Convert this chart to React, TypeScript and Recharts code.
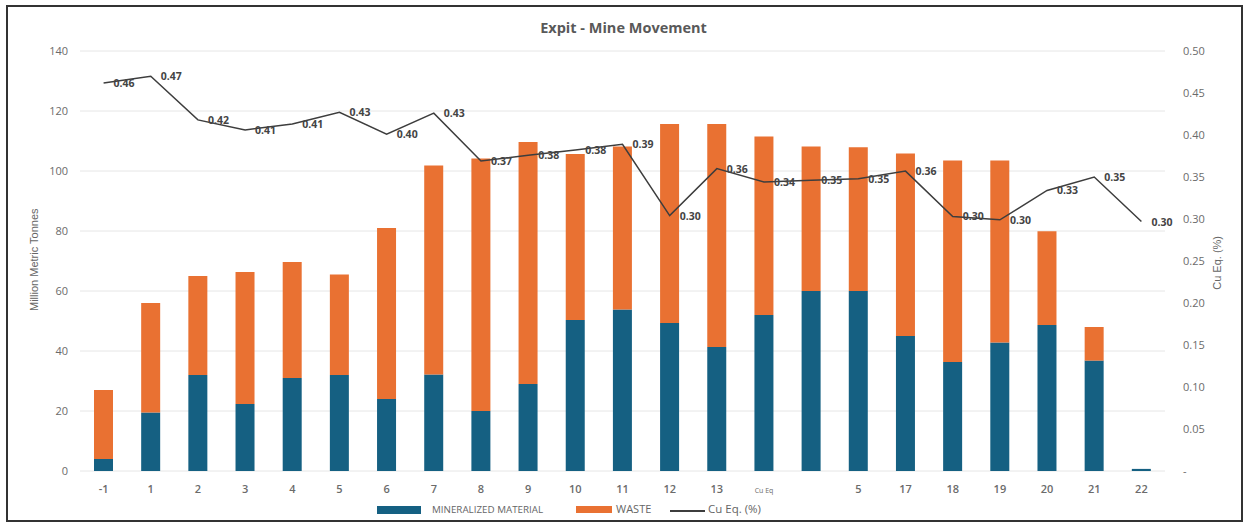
import React from 'react';
import {
  ComposedChart, Bar, Line, XAxis, YAxis, CartesianGrid, LabelList,
} from 'recharts';

const years = ['-1', '1', '2', '3', '4', '5', '6', '7', '8', '9', '10', '11', '12', '13', 'Cu Eq', '', '5', '17', '18', '19', '20', '21', '22'];
const mineralized = [4, 19.5, 32, 22.3, 31, 32, 24, 32.2, 20, 29, 50.3, 53.8, 49.3, 41.3, 52, 60, 60, 45, 36.3, 42.8, 48.7, 36.8, 0.7];
const totalMoved = [27, 56, 65, 66.3, 69.7, 65.5, 81, 101.8, 104.2, 109.7, 105.7, 108.2, 115.7, 115.7, 111.5, 108.2, 107.9, 105.8, 103.5, 103.5, 79.9, 48, 0.7];
const cuEq = [0.462, 0.47, 0.418, 0.406, 0.413, 0.427, 0.401, 0.426, 0.369, 0.376, 0.382, 0.389, 0.304, 0.36, 0.344, 0.346, 0.348, 0.357, 0.303, 0.299, 0.334, 0.35, 0.297];

const leftTicks = [0, 20, 40, 60, 80, 100, 120, 140];
const rightTicks = [0, 0.05, 0.1, 0.15, 0.2, 0.25, 0.3, 0.35, 0.4, 0.45, 0.5];

const BLUE = '#156082';
const ORANGE = '#E97132';
const LINE = '#3d3d3d';
const AXIS_TXT = '#6b6b6b';
const FONT = '"Open Sans", Arial, sans-serif';
const NARROW = '"Liberation Sans Narrow", "Arial Narrow", sans-serif';

const data = years.map((y, i) => ({
  year: y,
  mineralized: mineralized[i],
  waste: Math.max(0, +(totalMoved[i] - mineralized[i]).toFixed(1)),
  cu: cuEq[i],
}));

const XTick = (p: any) => {
  const v = p.payload.value;
  const small = v === 'Cu Eq';
  return (
    <text x={p.x} y={p.y + 14} textAnchor="middle" fill={AXIS_TXT}
      fontSize={small ? 7 : 11} fontWeight={small ? 400 : 600} fontFamily={FONT}>
      {v}
    </text>
  );
};

const CuLabel = (p: any) => (
  <text x={p.x + 10} y={p.y + 4} fill="#444" fontSize={10.5} fontWeight={700} fontFamily={FONT}>
    {Number(p.value).toFixed(2)}
  </text>
);

function App() {
  return (
    <div style={{ position: 'fixed', left: 0, top: 0, width: 1247, height: 527, background: '#fff', fontFamily: FONT }}>
      <div style={{ position: 'absolute', left: 6, top: 5, width: 1237, height: 517, border: '2px solid #333', boxSizing: 'border-box' }} />
      <div style={{ position: 'absolute', left: 0, width: 1247, top: 18, textAlign: 'center', fontSize: 14.5, fontWeight: 700, color: '#595959' }}>
        Expit - Mine Movement
      </div>
      <ComposedChart width={1247} height={527} data={data}
        margin={{ top: 51, right: 0, bottom: 26, left: 0 }}
        style={{ position: 'absolute', left: 0, top: 0 }}>
        <CartesianGrid vertical={false} stroke="#e6e6e6" yAxisId="left" />
        <XAxis dataKey="year" height={30} axisLine={false} tickLine={false} interval={0} tick={<XTick />} />
        <YAxis yAxisId="left" width={80} domain={[0, 140]} ticks={leftTicks} axisLine={false} tickLine={false}
          tick={{ fill: AXIS_TXT, fontSize: 11, fontFamily: FONT }} tickMargin={6}
          label={{ value: 'Million Metric Tonnes', angle: -90, position: 'insideLeft', offset: 34, dy: 50,
            style: { fill: '#666', fontSize: 11, fontFamily: NARROW } }} />
        <YAxis yAxisId="right" orientation="right" width={82} domain={[0, 0.5]} ticks={rightTicks} axisLine={false} tickLine={false}
          tick={{ fill: AXIS_TXT, fontSize: 11, fontFamily: FONT }} tickMargin={12}
          tickFormatter={(v: number) => (v === 0 ? '-' : v.toFixed(2))}
          label={{ value: 'Cu Eq. (%)', angle: -90, position: 'insideRight', offset: 30, dy: -25,
            style: { fill: '#666', fontSize: 11, fontFamily: NARROW } }} />
        <Bar yAxisId="left" dataKey="mineralized" stackId="a" fill={BLUE} barSize={19} isAnimationActive={false} />
        <Bar yAxisId="left" dataKey="waste" stackId="a" fill={ORANGE} barSize={19} isAnimationActive={false} />
        <Line yAxisId="right" dataKey="cu" stroke={LINE} strokeWidth={1.5} dot={false} type="linear" isAnimationActive={false}>
          <LabelList dataKey="cu" content={<CuLabel />} />
        </Line>
      </ComposedChart>
      <div style={{ position: 'absolute', top: 503, left: 0, height: 14, width: 1247, color: '#666' }}>
        <div style={{ position: 'absolute', left: 377, top: 3, width: 44, height: 8, background: BLUE }} />
        <div style={{ position: 'absolute', left: 432, top: 0, fontSize: 9.8 }}>MINERALIZED MATERIAL</div>
        <div style={{ position: 'absolute', left: 576, top: 3, width: 36, height: 7, background: ORANGE }} />
        <div style={{ position: 'absolute', left: 616, top: -2, fontSize: 11 }}>WASTE</div>
        <div style={{ position: 'absolute', left: 670, top: 7, width: 35, height: 1.5, background: LINE }} />
        <div style={{ position: 'absolute', left: 708, top: -2, fontSize: 11.5 }}>Cu Eq. (%)</div>
      </div>
    </div>
  );
}

export default App;
